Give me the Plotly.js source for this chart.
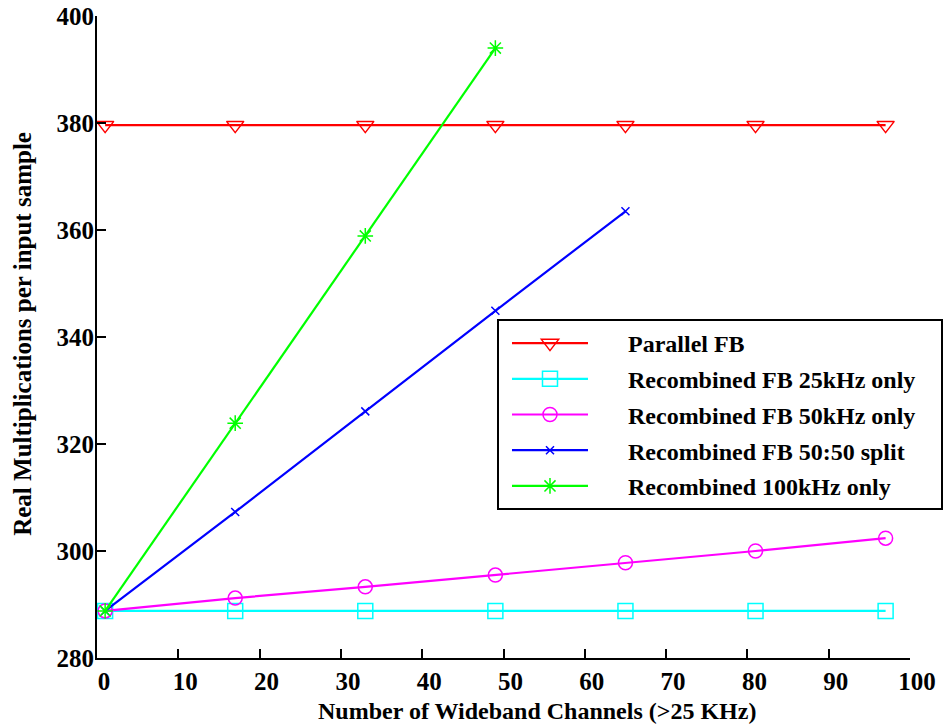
<!DOCTYPE html>
<html>
<head>
<meta charset="utf-8">
<script src="https://cdn.plot.ly/plotly-3.0.1.min.js"></script>
<style>
  html, body { margin: 0; padding: 0; background: #ffffff; }
  #chart { width: 944px; height: 728px; }
</style>
</head>
<body>
<div id="chart"></div>
<script>
// Number of wideband channels (>25 kHz)
const channels = [1, 17, 33, 49, 65, 81, 97];

// Real multiplications per input sample for each filter bank structure
const parallelFB = [379.6, 379.6, 379.6, 379.6, 379.6, 379.6, 379.6];
const recomb25k = [288.8, 288.8, 288.8, 288.8, 288.8, 288.8, 288.8];
const recomb50k = [288.8, 291.2, 293.3, 295.5, 297.8, 300.0, 302.4];
const recomb5050 = [288.8, 307.3, 326.1, 344.9, 363.5];
const recomb100k = [288.8, 323.9, 358.9, 394.0];

const seriesNames = [
  'Parallel FB',
  'Recombined FB 25kHz only',
  'Recombined FB 50kHz only',
  'Recombined FB 50:50 split',
  'Recombined 100kHz only'
];

const xTicks = [0, 10, 20, 30, 40, 50, 60, 70, 80, 90, 100];
const yTicks = [280, 300, 320, 340, 360, 380, 400];

const xTitle = 'Number of Wideband Channels (>25 KHz)';
const yTitle = 'Real Multiplications per input sample';

const serif = 'Liberation Serif, Times New Roman, serif';

function series(name, xs, ys, color, symbol, size) {
  return {
    type: 'scatter',
    mode: 'lines+markers',
    name: name,
    legendgroup: name,
    x: xs,
    y: ys,
    line: { color: color, width: 2.2 },
    marker: { symbol: symbol, size: size, color: color, line: { color: color, width: 1.5 } }
  };
}

const traces = [
  series(seriesNames[0], channels, parallelFB, '#ff0000', 'triangle-down-open', 15),
  series(seriesNames[1], channels, recomb25k, '#00ffff', 'square-open', 15),
  series(seriesNames[2], channels, recomb50k, '#ff00ff', 'circle-open', 14),
  series(seriesNames[3], channels.slice(0, recomb5050.length), recomb5050, '#0000ff', 'x-thin-open', 8),
  series(seriesNames[4], channels.slice(0, recomb100k.length), recomb100k, '#00ff00', 'asterisk-open', 13)
];

const axisFont = { family: serif, size: 25, color: '#000000', weight: 'bold' };

const layout = {
  width: 944,
  height: 728,
  paper_bgcolor: '#ffffff',
  plot_bgcolor: '#ffffff',
  margin: { l: 97, r: 34, t: 16, b: 70, pad: 0 },
  font: { family: serif, size: 24, color: '#000000', weight: 'bold' },
  showlegend: true,
  legend: {
    x: 0.492, y: 0.528, xanchor: 'left', yanchor: 'top',
    bgcolor: '#ffffff', bordercolor: '#000000', borderwidth: 2,
    font: { family: serif, size: 24, color: '#000000', weight: 'bold' },
    itemwidth: 119,
    tracegroupgap: 1.5,
    traceorder: 'grouped'
  },
  xaxis: {
    range: [0, 100],
    tickvals: xTicks,
    ticktext: xTicks.map(String),
    ticks: 'inside', ticklen: 9, tickwidth: 2, tickcolor: '#000000',
    ticklabelshift: 7,
    showline: true, linecolor: '#000000', linewidth: 2, mirror: false,
    showgrid: false, zeroline: false,
    tickfont: axisFont,
    automargin: false
  },
  yaxis: {
    range: [280, 400],
    tickvals: yTicks,
    ticktext: yTicks.map(String),
    ticks: 'inside', ticklen: 9, tickwidth: 2, tickcolor: '#000000',
    ticklabelstandoff: -4,
    showline: true, linecolor: '#000000', linewidth: 2, mirror: false,
    showgrid: false, zeroline: false,
    tickfont: axisFont,
    automargin: false
  },
  annotations: [
    {
      text: xTitle, xref: 'paper', yref: 'paper',
      x: 0.541, y: -0.083, xanchor: 'center', yanchor: 'middle',
      showarrow: false,
      font: { family: serif, size: 24, color: '#000000', weight: 'bold' }
    },
    {
      text: yTitle, xref: 'paper', yref: 'paper',
      x: -0.091, y: 0.505, xanchor: 'center', yanchor: 'middle',
      textangle: -90, showarrow: false,
      font: { family: serif, size: 25, color: '#000000', weight: 'bold' }
    }
  ]
};

Plotly.newPlot('chart', traces, layout, { displayModeBar: false, staticPlot: true }).then(function (gd) {
  // Widen the legend line samples and centre each symbol on its line
  gd.querySelectorAll('.legend .traces').forEach(function (item) {
    item.querySelectorAll('.legendlines path').forEach(function (p) {
      p.setAttribute('d', 'M13,0h76');
    });
    item.querySelectorAll('.legendsymbols path.scatterpts').forEach(function (p) {
      p.setAttribute('transform', 'translate(51,0)');
    });
  });
  // Stretch the legend frame out to the right edge of the figure
  const bg = gd.querySelector('.legend rect.bg');
  if (bg) {
    const box = gd.querySelector('.legend').getBoundingClientRect();
    bg.setAttribute('width', String(943 - box.left - 1));
  }
});
</script>
</body>
</html>
